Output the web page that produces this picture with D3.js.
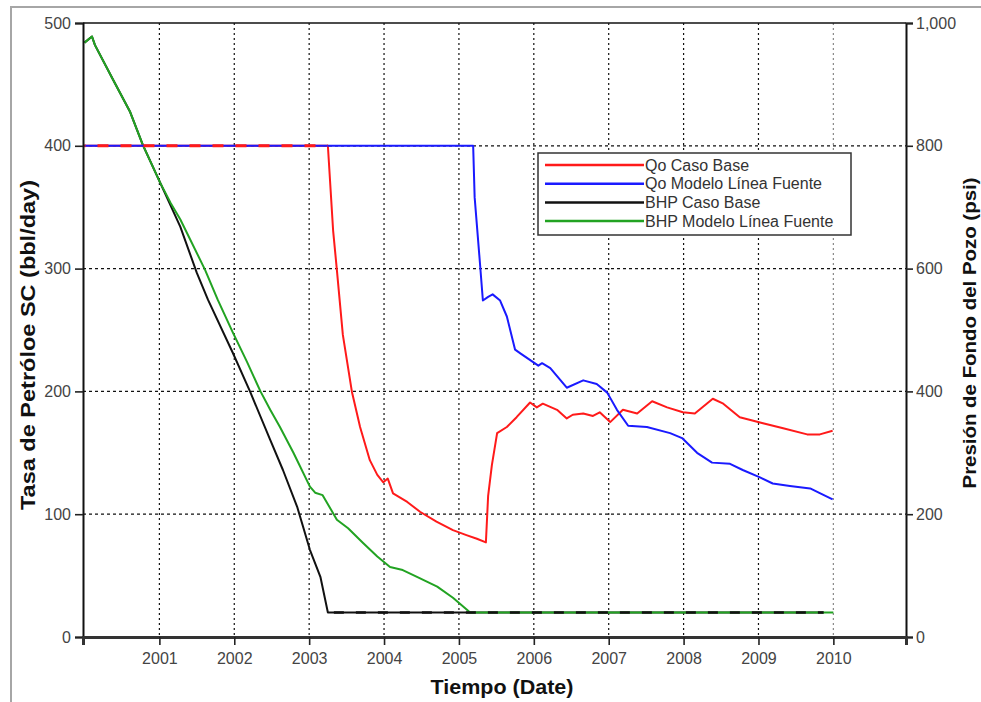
<!DOCTYPE html>
<html>
<head>
<meta charset="utf-8">
<script src="https://cdn.jsdelivr.net/npm/d3@7"></script>
<style>
  html, body { margin: 0; padding: 0; background: #fff; }
  svg { display: block; font-family: "Liberation Sans", Arial, sans-serif; }
</style>
</head>
<body>
<svg id="chart" width="981" height="702"></svg>
<script>
// Axis ticks
const yearTicks = [2001, 2002, 2003, 2004, 2005, 2006, 2007, 2008, 2009, 2010];
const rateTicks = [0, 100, 200, 300, 400, 500];
const pressureTicks = [0, 200, 400, 600, 800, 1000];

// Oil rate (bbl/day) vs decimal year
const qoCasoBase = [
  [2000.0, 400], [2003.25, 400], [2003.32, 331], [2003.37, 299], [2003.45, 246],
  [2003.57, 200], [2003.68, 171], [2003.81, 144], [2003.91, 132], [2003.99, 126],
  [2004.05, 129], [2004.12, 117], [2004.31, 110], [2004.48, 102], [2004.70, 94],
  [2004.92, 87], [2005.10, 83], [2005.24, 80], [2005.36, 77], [2005.39, 115],
  [2005.44, 140], [2005.51, 166], [2005.64, 171], [2005.77, 179], [2005.95, 191],
  [2006.04, 187], [2006.12, 190], [2006.31, 185], [2006.44, 178], [2006.52, 181],
  [2006.66, 182], [2006.79, 180], [2006.88, 183], [2007.02, 175], [2007.19, 185],
  [2007.38, 182], [2007.58, 192], [2007.78, 187], [2007.99, 183], [2008.15, 182],
  [2008.39, 194], [2008.53, 190], [2008.75, 179], [2009.06, 174], [2009.33, 170],
  [2009.65, 165], [2009.82, 165], [2009.99, 168]
];
const qoModeloLinea = [
  [2000.0, 400], [2005.19, 400], [2005.21, 358], [2005.28, 305], [2005.32, 274],
  [2005.39, 277], [2005.45, 279], [2005.55, 274], [2005.64, 261], [2005.75, 234],
  [2005.82, 231], [2006.06, 221], [2006.11, 223], [2006.22, 219], [2006.44, 203],
  [2006.66, 209], [2006.84, 206], [2006.98, 199], [2007.11, 185], [2007.26, 172],
  [2007.51, 171], [2007.82, 166], [2007.98, 162], [2008.18, 150], [2008.38, 142],
  [2008.62, 141], [2008.79, 136], [2009.02, 130], [2009.19, 125], [2009.42, 123],
  [2009.69, 121], [2009.86, 116], [2009.99, 112]
];

// Bottom-hole pressure (psi) vs decimal year
const bhpCasoBase = [
  [2000.0, 968], [2000.10, 978], [2000.14, 964], [2000.38, 908], [2000.61, 855],
  [2000.78, 801], [2001.01, 740], [2001.28, 668], [2001.50, 593], [2001.65, 549],
  [2001.98, 463], [2002.21, 400], [2002.48, 321], [2002.65, 272], [2002.84, 212],
  [2003.01, 142], [2003.15, 98], [2003.25, 40], [2009.87, 40]
];
const bhpModeloLinea = [
  [2000.0, 968], [2000.10, 978], [2000.14, 964], [2000.38, 908], [2000.61, 855],
  [2000.78, 801], [2001.01, 740], [2001.15, 707], [2001.28, 680], [2001.61, 598],
  [2001.78, 549], [2001.98, 496], [2002.17, 448], [2002.35, 400], [2002.48, 370],
  [2002.61, 342], [2002.79, 300], [2003.01, 245], [2003.08, 235], [2003.18, 231],
  [2003.37, 191], [2003.52, 177], [2003.72, 153], [2003.91, 131], [2004.08, 114],
  [2004.25, 109], [2004.44, 98], [2004.71, 82], [2004.92, 64], [2005.15, 40],
  [2010.0, 40]
];

const seriesNames = ["Qo Caso Base", "Qo Modelo Línea Fuente", "BHP Caso Base", "BHP Modelo Línea Fuente"];
const seriesColors = ["#ff1a1a", "#1a1aff", "#111111", "#22a322"];

const svg = d3.select("#chart");

const plot = { left: 83, right: 906, top: 23, bottom: 637 };

const x = d3.scaleLinear().domain([1999.98, 2010.97]).range([plot.left, plot.right]);
const yRate = d3.scaleLinear().domain([0, 500]).range([plot.bottom, plot.top]);
const yPress = d3.scaleLinear().domain([0, 1000]).range([plot.bottom, plot.top]);

// Outer frame (top and left edges)
svg.append("path")
  .attr("d", "M11,702 L11,7 L981,7")
  .attr("fill", "none").attr("stroke", "#a6a6a6").attr("stroke-width", 2);

// Grid
const grid = svg.append("g");
grid.selectAll("line.v").data(yearTicks).join("line")
  .attr("x1", d => x(d)).attr("x2", d => x(d))
  .attr("y1", plot.top).attr("y2", plot.bottom)
  .attr("stroke", d => d === 2010 ? "#888" : "#111")
  .attr("stroke-width", 1.2).attr("stroke-dasharray", "2,3");
grid.selectAll("line.h").data(rateTicks.filter(d => d > 0 && d < 500)).join("line")
  .attr("x1", plot.left).attr("x2", plot.right)
  .attr("y1", d => yRate(d)).attr("y2", d => yRate(d))
  .attr("stroke", "#111").attr("stroke-width", 1.2).attr("stroke-dasharray", "3,3");

// Series
const line = (scale) => d3.line().x(d => x(d[0])).y(d => scale(d[1]));
const lines = svg.append("g").attr("fill", "none").attr("stroke-linejoin", "round");

lines.append("path").datum(bhpCasoBase)
  .attr("d", line(yPress)).attr("stroke", seriesColors[2]).attr("stroke-width", 2);
lines.append("path").datum(bhpModeloLinea)
  .attr("d", line(yPress)).attr("stroke", seriesColors[3]).attr("stroke-width", 2);
// Where both pressure curves sit on the floor, the base case shows through as dashes
lines.append("path").datum(bhpCasoBase.filter(d => d[0] >= 2003.25))
  .attr("d", line(yPress)).attr("stroke", seriesColors[2]).attr("stroke-width", 2.5)
  .attr("stroke-dasharray", "10,12").attr("stroke-dashoffset", -160);

lines.append("path").datum(qoCasoBase)
  .attr("d", line(yRate)).attr("stroke", seriesColors[0]).attr("stroke-width", 2);
lines.append("path").datum(qoModeloLinea)
  .attr("d", line(yRate)).attr("stroke", seriesColors[1]).attr("stroke-width", 2);
// Shared 400 bbl/day plateau: base case drawn as dashes over the model line
lines.append("path").datum(qoCasoBase.filter(d => d[1] === 400))
  .attr("d", line(yRate)).attr("stroke", seriesColors[0]).attr("stroke-width", 3)
  .attr("stroke-dasharray", "11,12").attr("stroke-dashoffset", -13);

// Axes
const tickFont = 16;
const axisL = d3.axisLeft(yRate).tickValues(rateTicks).tickSize(8).tickPadding(4);
const axisR = d3.axisRight(yPress).tickValues(pressureTicks).tickSize(7).tickPadding(3).tickFormat(d3.format(","));
const axisB = d3.axisBottom(x).tickValues(yearTicks).tickSize(8).tickPadding(8).tickFormat(d3.format("d"));

function styleAxis(g, w) {
  g.select(".domain").attr("stroke", "#111").attr("stroke-width", w);
  g.selectAll(".tick line").attr("stroke", "#222").attr("stroke-width", 1.6);
  g.selectAll(".tick text").attr("fill", "#444").style("font-size", tickFont + "px")
    .style("font-family", "'Liberation Sans', Arial, sans-serif");
}

svg.append("g").attr("transform", `translate(${plot.left},0)`).call(axisL).call(g => styleAxis(g, 2));
svg.append("g").attr("transform", `translate(${plot.right},0)`).call(axisR).call(g => styleAxis(g, 2));
svg.append("g").attr("transform", `translate(0,${plot.bottom})`).call(axisB).call(g => styleAxis(g, 3))
  .call(g => g.select(".domain").attr("stroke", "#333"));

// Plot top border
svg.append("line")
  .attr("x1", plot.left).attr("x2", plot.right)
  .attr("y1", plot.top).attr("y2", plot.top)
  .attr("stroke", "#111").attr("stroke-width", 1.5);

// Axis titles
svg.append("text")
  .attr("transform", "translate(35,345) rotate(-90)")
  .attr("text-anchor", "middle")
  .attr("textLength", 330).attr("lengthAdjust", "spacingAndGlyphs")
  .style("font-size", "20px").style("font-weight", "bold").attr("fill", "#111")
  .text("Tasa de Petróloe SC (bbl/day)");
svg.append("text")
  .attr("transform", "translate(976,333) rotate(-90)")
  .attr("text-anchor", "middle")
  .attr("textLength", 311).attr("lengthAdjust", "spacingAndGlyphs")
  .style("font-size", "19px").style("font-weight", "bold").attr("fill", "#111")
  .text("Presión de Fondo del Pozo (psi)");
svg.append("text")
  .attr("x", 502).attr("y", 694)
  .attr("text-anchor", "middle")
  .attr("textLength", 143).attr("lengthAdjust", "spacingAndGlyphs")
  .style("font-size", "20px").style("font-weight", "bold").attr("fill", "#111")
  .text("Tiempo (Date)");

// Legend
const legend = svg.append("g");
legend.append("rect")
  .attr("x", 538).attr("y", 153).attr("width", 313).attr("height", 82)
  .attr("fill", "#fff").attr("stroke", "#333").attr("stroke-width", 1.5);
const rows = legend.selectAll("g.row").data(seriesNames).join("g")
  .attr("transform", (d, i) => `translate(0,${165 + i * 18.7})`);
rows.append("line")
  .attr("x1", 545).attr("x2", 644).attr("y1", 0).attr("y2", 0)
  .attr("stroke", (d, i) => seriesColors[i]).attr("stroke-width", 2.5);
rows.append("text")
  .attr("x", 645).attr("y", 5.5)
  .style("font-size", "16px").attr("fill", "#333")
  .text(d => d);
</script>
</body>
</html>
